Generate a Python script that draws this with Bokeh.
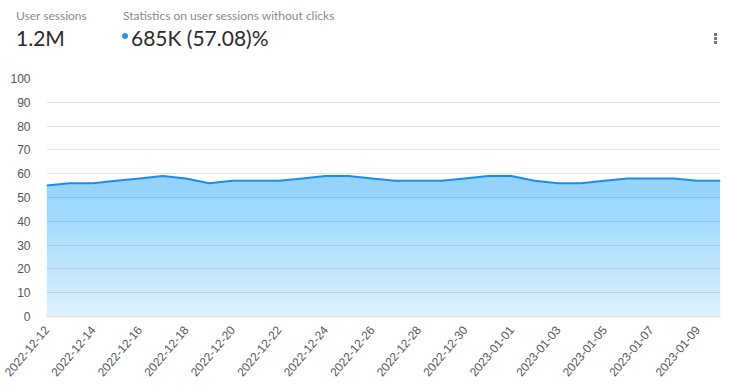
import numpy as np
from bokeh.plotting import figure
from bokeh.models import Div, FixedTicker
from bokeh.layouts import column
from bokeh.embed import file_html
from bokeh.resources import INLINE

dates = ["2022-12-12", "2022-12-13", "2022-12-14", "2022-12-15", "2022-12-16",
         "2022-12-17", "2022-12-18", "2022-12-19", "2022-12-20", "2022-12-21",
         "2022-12-22", "2022-12-23", "2022-12-24", "2022-12-25", "2022-12-26",
         "2022-12-27", "2022-12-28", "2022-12-29", "2022-12-30", "2022-12-31",
         "2023-01-01", "2023-01-02", "2023-01-03", "2023-01-04", "2023-01-05",
         "2023-01-06", "2023-01-07", "2023-01-08", "2023-01-09", "2023-01-10"]
values = [55, 56, 56, 57, 58, 59, 58, 56, 57, 57,
          57, 58, 59, 59, 58, 57, 57, 57, 58, 59,
          59, 57, 56, 56, 57, 58, 58, 58, 57, 57]
y_ticks = [0, 10, 20, 30, 40, 50, 60, 70, 80, 90, 100]

header_total = "1.2M"
header_total_label = "User sessions"
header_stat_label = "Statistics on user sessions without clicks"
header_stat = "685K (57.08)%"

x = np.arange(len(dates))
vals = np.array(values, dtype=float)

W = 729
HEAD = 70
div = Div(text=f"""
<div style="position:relative;width:{W}px;height:{HEAD}px;font-family:'Lato',sans-serif;">
  <div style="position:absolute;left:16px;top:7px;font-size:12px;color:#8a8a8a;">{header_total_label}</div>
  <div style="position:absolute;left:16px;top:23px;font-size:21px;color:#2b2b2b;">{header_total}</div>
  <div style="position:absolute;left:123px;top:7px;font-size:12px;color:#8a8a8a;">{header_stat_label}</div>
  <div style="position:absolute;left:122px;top:33px;width:6px;height:6px;border-radius:3px;background:#2196f3;"></div>
  <div style="position:absolute;left:131px;top:23px;font-size:21px;color:#2b2b2b;">{header_stat}</div>
  <div style="position:absolute;left:714px;top:33px;width:3px;">
    <div style="width:3px;height:3px;background:#777;margin-bottom:1px;"></div>
    <div style="width:3px;height:3px;background:#777;margin-bottom:1px;"></div>
    <div style="width:3px;height:3px;background:#777;"></div>
  </div>
</div>""", width=W, height=HEAD, margin=(0, 0, 0, 0))

p = figure(width=W, height=389 - HEAD, output_backend="svg", toolbar_location=None,
           x_range=(0, len(dates) - 1), y_range=(0, 100),
           min_border_left=46, min_border_right=9, min_border_top=8, min_border_bottom=73,
           outline_line_color=None, margin=(0, 0, 0, 0))

# gradient-like fill by stacking translucent areas
p.varea(x=x, y1=np.zeros_like(vals), y2=vals, fill_color="#2196f3", fill_alpha=0.15)
for k in range(2, 58, 2):
    p.varea(x=x, y1=np.minimum(vals, k), y2=vals, fill_color="#2196f3", fill_alpha=0.013)
p.line(x=x, y=vals, line_color="#1a8cf0", line_width=2)

p.yaxis.ticker = FixedTicker(ticks=y_ticks)
p.xaxis.ticker = FixedTicker(ticks=list(range(0, len(dates), 2)))
p.xaxis.major_label_overrides = {i: dates[i] for i in range(0, len(dates), 2)}
p.xaxis.major_label_orientation = 0.87

for ax in (p.xaxis, p.yaxis):
    ax.major_tick_line_color = None
    ax.minor_tick_line_color = None
    ax.major_label_text_font = "Liberation Sans"
    ax.major_label_text_font_size = "12px"
    ax.major_label_text_color = "#555555"
p.yaxis.axis_line_color = None
p.yaxis.major_label_standoff = 10
p.xaxis.axis_line_color = "#e6e6e6"
p.xaxis.axis_line_width = 2
p.xaxis.major_label_standoff = 5

p.xgrid.grid_line_color = None
p.ygrid.grid_line_color = "#e3e3e3"
p.ygrid.grid_line_width = 1
p.background_fill_color = "white"
p.border_fill_color = "white"

layout = column(div, p, spacing=0, margin=(0, 0, 0, 0))
open("out.html", "w").write(file_html(layout, INLINE))
